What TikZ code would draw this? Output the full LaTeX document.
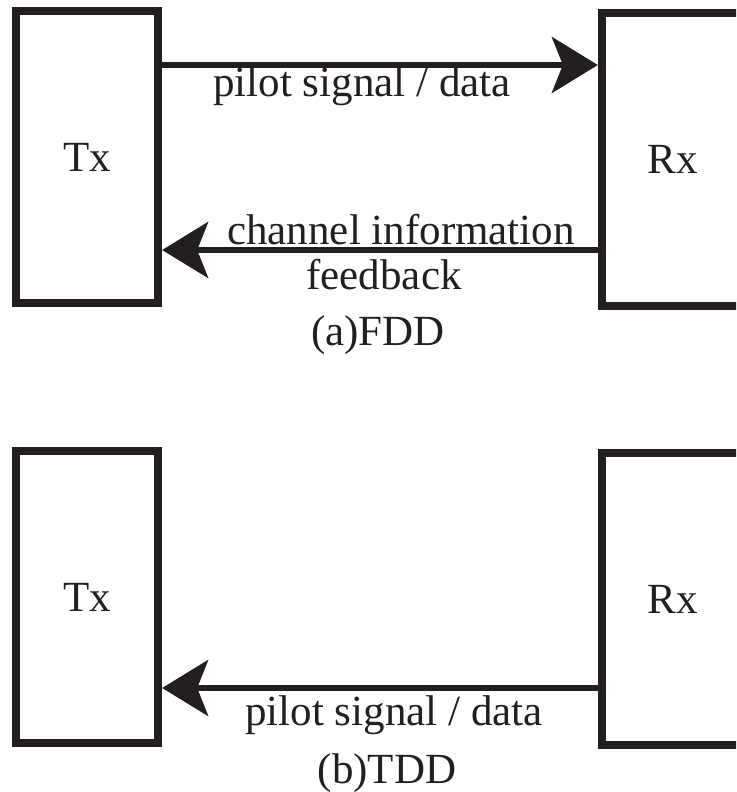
\documentclass[tikz,border=0pt]{standalone}
\usepackage{fontspec}
\setmainfont{Liberation Serif}
\usetikzlibrary{arrows.meta}
\definecolor{ink}{HTML}{231F20}
\begin{document}
\begin{tikzpicture}[x=1pt,y=1pt,
  blk/.style={draw=ink, line width=8.3pt, rectangle, minimum width=142pt, minimum height=292pt, inner sep=0pt, font=\fontsize{43}{50}\selectfont, text=ink},
  arr/.style={draw=ink, line width=5.5pt, -{Stealth[length=46pt,width=56pt,inset=11pt]}},
  lbl/.style={inner sep=0pt, anchor=base, font=\fontsize{43}{50}\selectfont, text=ink}]
\useasboundingbox (0,0) rectangle (736,792);
\clip (0,0) rectangle (736,792);
% (a) FDD
\node[blk] (tx1) at (87,635) {Tx};
\node[blk, minimum height=293pt] (rx1) at (673,632.5) {Rx};
\coordinate (ya1) at (0,727);
\coordinate (ya2) at (0,542);
\draw[arr] (tx1.east |- ya1) -- (rx1.west |- ya1);
\draw[arr] (rx1.west |- ya2) -- (tx1.east |- ya2);
\node[lbl] (l1) at (362,695) {pilot signal / data};
\node[lbl] (l2) at (401,547) {channel information};
\node[lbl] (l3) at (384,502) {feedback};
\node[lbl] (l4) at (378,446) {(a)FDD};
% (b) TDD
\node[blk] (tx2) at (87,195) {Tx};
\node[blk] (rx2) at (673,193) {Rx};
\coordinate (yb1) at (0,104);
\draw[arr] (rx2.west |- yb1) -- (tx2.east |- yb1);
\node[lbl] (l5) at (394,66) {pilot signal / data};
\node[lbl] (l6) at (387,9) {(b)TDD};
\end{tikzpicture}
\end{document}
